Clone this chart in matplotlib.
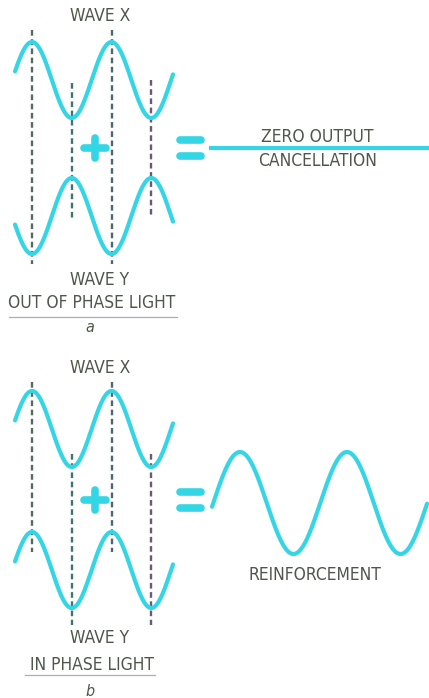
import numpy as np
import matplotlib.pyplot as plt

########### Data ###########

# phase of each small wave (0 = crest on the first dashed line, 180 = trough)
phase_a = [0, 180]      # wave X, wave Y : out of phase
phase_b = [0, 0]        # wave X, wave Y : in phase
cycles = 2              # cycles shown in each small wave

# how far each dashed guide runs past wave X (up) and wave Y (down)
dash_over_a = [(12, 10), (35, 42), (12, 10), (38, 40)]
dash_over_b = [(9, 20), (13, 17), (9, 20), (13, 17)]

labels_a = ['WAVE X', 'WAVE Y', 'OUT OF PHASE LIGHT', 'a']
labels_b = ['WAVE X', 'WAVE Y', 'IN PHASE LIGHT', 'b']
result_a = ['ZERO OUTPUT', 'CANCELLATION']
result_b = ['REINFORCEMENT']

########### Style ###########

cyan = '#34d6e6'
ink = '#4f574d'
dash_cols = ['#566a64', '#3e7570', '#4b6870', '#6a5a74']
fam = ['DejaVu Sans']

W, H = 429, 698
fig = plt.figure(figsize=(W/100, H/100), dpi=100)
ax = fig.add_axes([0, 0, 1, 1])
ax.set_xlim(0, W)
ax.set_ylim(H, 0)
ax.axis('off')

x0, per = 32, 79.5       # first crest and period of the small waves
amp = 38

def txt(x, y, s, **kw):
    kw.setdefault('fontsize', 12.5)
    ax.text(x, y, s, ha='center', va='center', color=ink, family=fam,
            fontstretch='condensed', **kw)

def small_pair(phases, yc, over, labels, ylab):
    # two waves, top and bottom
    x = np.linspace(15, 173, 400)
    for ph, c in zip(phases, yc):
        y = c - amp*np.cos(2*np.pi*(x - x0)/per + np.radians(ph))
        ax.plot(x, y, color=cyan, lw=3.0, solid_capstyle='round', zorder=3)
    # dashed guide lines on crests / troughs
    for k in range(2*cycles):
        xv = x0 + k*per/2
        ext = [c - amp*np.cos(np.pi*k + np.radians(ph)) for ph, c in zip(phases, yc)]
        top = ext[0] - over[k][0]
        bot = ext[1] + over[k][1]
        ax.plot([xv, xv], [top, bot], color=dash_cols[k], lw=1.7,
                dashes=(2.4, 1.5), zorder=2)
    # plus sign
    yp = (yc[0] + yc[1])/2
    ax.plot([84, 106], [yp, yp], color=cyan, lw=5.5, solid_capstyle='round', zorder=4)
    ax.plot([95, 95], [yp-10, yp+10], color=cyan, lw=5.5, solid_capstyle='round', zorder=4)
    # equals sign
    for dy in (-8, 8):
        ax.plot([180, 201], [yp+dy, yp+dy], color=cyan, lw=5.5,
                solid_capstyle='round', zorder=4)
    # labels
    txt(100, ylab[0], labels[0])
    txt(100, ylab[1], labels[1])
    txt(92, ylab[2], labels[2])
    txt(90, ylab[3], labels[3], style='italic', fontsize=11.5)
    return yp

############ Panel a ############

yp = small_pair(phase_a, [80, 216], dash_over_a, labels_a, [16, 280, 303, 327])
ax.plot([9, 177], [317, 317], color='#a8b0aa', lw=0.9)
ax.plot([211, 429], [yp, yp], color=cyan, lw=3.0, zorder=3)
txt(317, yp - 11, result_a[0])
txt(318, yp + 13, result_a[1])

############ Panel b ############

yp = small_pair(phase_b, [429, 570], dash_over_b, labels_b, [368, 638, 665, 692])
ax.plot([25, 155], [675, 675], color='#a8b0aa', lw=0.9)
xr = np.linspace(212, 427, 500)
pr = 107
yr = 503 - 51*np.cos(2*np.pi*(xr - 240)/pr)
ax.plot(xr, yr, color=cyan, lw=3.0, solid_capstyle='round', zorder=3)
txt(315, 575, result_b[0])

fig.savefig('out.png', dpi=100, facecolor='white')
